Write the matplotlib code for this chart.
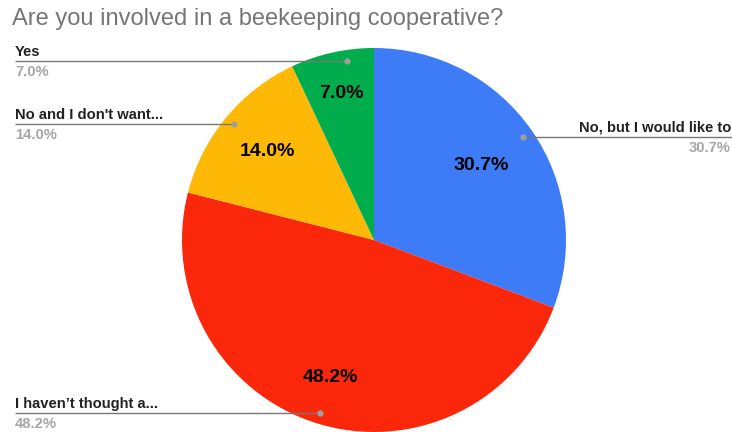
import numpy as np
import matplotlib.pyplot as plt

plt.rcParams['font.family'] = ['Liberation Sans', 'DejaVu Sans']

labels = ['No, but I would like to', "I haven\u2019t thought a...", "No and I don't want...", 'Yes']
values = [30.7, 48.2, 14.0, 7.0]
colors = ['#3D7BF7', '#FB270B', '#FDB905', '#00AC4C']
inner_dist = [0.68, 0.75, 0.72, 0.78]
dot_shift = [0, 0, 0, -4]   # degrees, google nudges the small slice's dot

W, H = 732, 432
cx, cy, R = 374, H - 240, 192

fig = plt.figure(figsize=(W / 100, H / 100), dpi=100)
ax = fig.add_axes([0, 0, 1, 1])

wedges, _ = ax.pie(values, colors=colors, startangle=90, counterclock=False,
                   center=(cx, cy), radius=R, frame=True,
                   wedgeprops=dict(linewidth=0))
ax.set_xlim(0, W)
ax.set_ylim(0, H)
ax.set_aspect('auto')
ax.axis('off')

for w, lab, v, d, sh in zip(wedges, labels, values, inner_dist, dot_shift):
    mid = np.deg2rad((w.theta1 + w.theta2) / 2)
    ax.text(cx + d * R * np.cos(mid), cy + d * R * np.sin(mid), f'{v:.1f}%',
            ha='center', va='center', fontsize=14, fontweight='bold', color='black')
    # leader line with dot
    dm = mid + np.deg2rad(sh)
    px, py = cx + 0.945 * R * np.cos(dm), cy + 0.945 * R * np.sin(dm)
    right = np.cos(mid) > 0
    x_end = W if right else 15
    ax.plot([x_end, px], [py, py], color='#777777', lw=1, solid_capstyle='butt')
    ax.plot(px, py, 'o', color='#9E9E9E', ms=4.5, mec='none')
    tx = W - 1 if right else 15
    ha = 'right' if right else 'left'
    ax.text(tx, py + 9, lab, ha=ha, va='center', fontsize=10.6, fontweight='bold', color='#222222')
    ax.text(tx, py - 11, f'{v:.1f}%', ha=ha, va='center', fontsize=10.6, fontweight='bold', color='#A6A6A6')

ax.text(12, H - 19, 'Are you involved in a beekeeping cooperative?', ha='left', va='center',
        fontsize=17, color='#757575')

fig.savefig('out.png', dpi=100)
